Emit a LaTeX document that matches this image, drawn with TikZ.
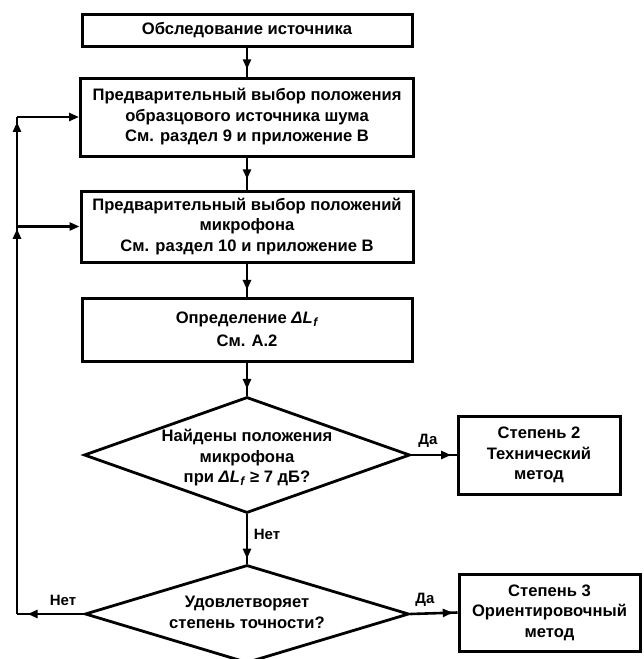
\documentclass[tikz,border=0pt]{standalone}
\usepackage{fontspec}
\setmainfont{Liberation Sans}
\usetikzlibrary{arrows.meta,shapes.geometric,decorations.markings}
\newcommand{\dLf}{\textit{ΔL}\kern0.5pt\raisebox{-3pt}{\fontsize{12}{12}\selectfont\textit{f}}}
\begin{document}
\begin{tikzpicture}[x=1pt,y=-1pt,
  every node/.style={font=\fontsize{16.6}{20.5}\selectfont\bfseries},
  box/.style={draw,line width=3pt,rectangle,inner sep=0pt,align=center},
  dia/.style={draw,line width=2.8pt,diamond,inner sep=0pt},
  txt/.style={align=center,inner sep=0pt},
  lab/.style={inner sep=0pt,font=\fontsize{15}{17}\selectfont\bfseries},
  conn/.style={line width=2.6pt},
  tip/.style={-{Triangle[length=10pt,width=8pt]}},
  marr/.style={postaction={decorate},decoration={markings,mark=at position #1 with {\arrow{Triangle[length=10pt,width=8pt]}}}},
]
\useasboundingbox (0,0) rectangle (644,659);

\node[box,minimum width=330pt,minimum height=32pt] (b1) at (247,30) {Обследование источника};
\node[box,minimum width=333pt,minimum height=78pt] (b2) at (247,117) {Предварительный выбор положения\\образцового источника шума\\См. раздел 9 и приложение В};
\node[box,minimum width=332pt,minimum height=71pt] (b3) at (247,226.5) {Предварительный выбор положений\\микрофона\\См. раздел 10 и приложение В};
\node[box,minimum width=330pt,minimum height=63pt] (b4) at (247,329.5) {Определение \dLf\\[3pt]См. А.2};

\node[dia,minimum width=326pt,minimum height=116pt] (d1) at (247,455) {};
\node[txt] (d1t) at (247,458) {Найдены положения\\микрофона\\при \dLf\ ≥ 7 дБ?};

\node[box,minimum width=162pt,minimum height=78pt] (s2) at (539,455) {Степень 2\\Технический\\метод};

\node[dia,minimum width=324pt,minimum height=98pt] (d2) at (247,614) {};
\node[txt] (d2t) at (247,612.5) {Удовлетворяет\\степень точности?};

\node[box,minimum width=181pt,minimum height=77pt] (s3) at (549.5,612.5) {Степень 3\\Ориентировочный\\метод};

\coordinate (lb) at (17,614);
\coordinate (jt) at (17,117);
\coordinate (jm) at (17,226.5);

\draw[conn,marr=0.75] (b1) -- (b2);
\draw[conn,marr=0.68] (b2) -- (b3);
\draw[conn,marr=0.8] (b3) -- (b4);
\draw[conn,marr=0.8] (b4) -- (d1.north);
\draw[conn,marr=0.9] (d1.south) -- (d2.north);
\draw[conn,marr=0.88] (d1.east) -- (s2.west);
\draw[conn,marr=0.9] (d2.east) -- (s3.west);
\draw[conn,marr=0.84] (d2.west) -- (lb);
\draw[conn,postaction={decorate},decoration={markings,
   mark=at position 0.775 with {\arrow{Triangle[length=10pt,width=8pt]}},
   mark=at position 0.99 with {\arrow{Triangle[length=10pt,width=8pt]}}}] (lb) -- (jt);
\draw[conn,tip] (jt) -- (b2.west);
\draw[conn,tip] (jm) -- (b3.west);

\node[lab] at (428,441) {Да};
\node[lab] at (425,600) {Да};
\node[lab] at (267,534) {Нет};
\node[lab] at (63,600) {Нет};
\end{tikzpicture}
\end{document}
